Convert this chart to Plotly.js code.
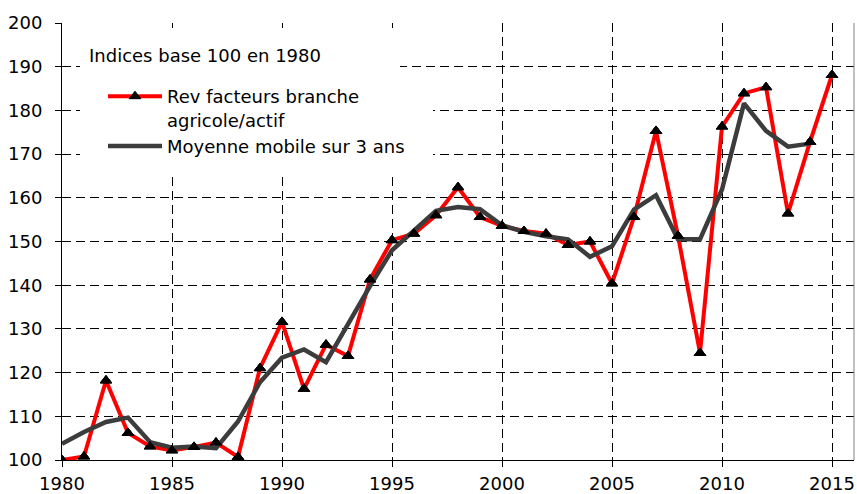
<!DOCTYPE html>
<html>
<head>
<meta charset="utf-8">
<script src="https://cdn.plot.ly/plotly-3.0.1.min.js"></script>
<style>
  html, body { margin: 0; padding: 0; background: #ffffff; }
  #chart { width: 857px; height: 494px; }
</style>
</head>
<body>
<div id="chart"></div>
<script>
// Years (x axis)
const years = [1980, 1981, 1982, 1983, 1984, 1985, 1986, 1987, 1988, 1989,
               1990, 1991, 1992, 1993, 1994, 1995, 1996, 1997, 1998, 1999,
               2000, 2001, 2002, 2003, 2004, 2005, 2006, 2007, 2008, 2009,
               2010, 2011, 2012, 2013, 2014, 2015];

// Revenu des facteurs de la branche agricole par actif (indice 100 en 1980)
const revFacteurs = [100.0, 100.8, 118.2, 106.2, 103.1, 102.2, 103.0, 104.0, 100.7, 121.0,
                     131.6, 116.3, 126.4, 123.8, 141.3, 150.3, 151.8, 156.0, 162.4, 155.6,
                     153.6, 152.4, 151.8, 149.2, 150.0, 140.4, 155.6, 175.3, 151.3, 124.5,
                     176.3, 183.9, 185.3, 156.4, 172.8, 188.1];

// Moyenne mobile sur 3 ans (1980-2014)
const moyenneYears = years.slice(0, 35);
const moyenneMobile = [103.7, 106.4, 108.7, 109.7, 104.1, 102.8, 103.1, 102.7, 108.8, 117.8,
                       123.4, 125.3, 122.4, 131.2, 139.8, 148.0, 152.6, 157.0, 157.9, 157.4,
                       153.7, 152.2, 151.2, 150.5, 146.5, 148.9, 157.3, 160.6, 150.5, 150.5,
                       161.9, 181.6, 175.3, 171.7, 172.4];

const xTicks = [1980, 1985, 1990, 1995, 2000, 2005, 2010, 2015];
const yTicks = [100, 110, 120, 130, 140, 150, 160, 170, 180, 190, 200];

const labelRev = 'Rev facteurs branche<br>agricole/actif';
const labelMoy = 'Moyenne mobile sur 3 ans';
const noteText = 'Indices base 100 en 1980';

const FONT = 'DejaVu Sans, Liberation Sans, Arial, sans-serif';

const markerStyle = { symbol: 'triangle-up', size: 10, color: '#000000', line: { color: '#000000', width: 1 } };

const traces = [
  {
    x: years, y: revFacteurs, name: labelRev, type: 'scatter', mode: 'lines+markers',
    line: { color: '#ff0000', width: 4 },
    marker: markerStyle,
    hoverinfo: 'x+y'
  },
  {
    x: moyenneYears, y: moyenneMobile, name: labelMoy, type: 'scatter', mode: 'lines',
    line: { color: '#3c3c3c', width: 4.5 },
    hoverinfo: 'x+y'
  },
  {
    x: years, y: revFacteurs, name: labelRev, type: 'scatter', mode: 'markers', showlegend: false,
    marker: markerStyle,
    hoverinfo: 'skip'
  }
];

const W = 857, H = 494;
const M = { l: 62, r: 3, t: 23, b: 34 };
const pw = W - M.l - M.r, ph = H - M.t - M.b;
const px = v => (v - M.l) / pw;
const py = v => 1 - (v - M.t) / ph;

const layout = {
  width: W, height: H,
  margin: M,
  paper_bgcolor: '#ffffff',
  plot_bgcolor: '#ffffff',
  font: { family: FONT, size: 18, color: '#000000' },
  showlegend: true,
  legend: {
    x: px(103), y: py(78), xanchor: 'left', yanchor: 'top',
    bgcolor: 'rgba(0,0,0,0)', borderwidth: 0,
    font: { family: FONT, size: 18, color: '#000000' },
    valign: 'top', itemwidth: 54, tracegroupgap: 0
  },
  xaxis: {
    range: [1980, 2016], tickvals: xTicks, ticktext: xTicks.map(String),
    showgrid: true, gridcolor: '#000000', gridwidth: 1, griddash: '9px,5px',
    showline: true, linecolor: '#000000', linewidth: 1,
    ticks: 'outside', ticklen: 6, tickcolor: '#000000', tickwidth: 1,
    ticklabelstandoff: 1,
    zeroline: false, fixedrange: true,
    tickfont: { family: FONT, size: 18, color: '#000000' }
  },
  yaxis: {
    range: [100, 200], tickvals: yTicks, ticktext: yTicks.map(String),
    showgrid: true, gridcolor: '#000000', gridwidth: 1, griddash: '9px,5px',
    showline: true, linecolor: '#000000', linewidth: 1,
    ticks: 'outside', ticklen: 6, tickcolor: '#000000', tickwidth: 1,
    ticklabelstandoff: 9,
    zeroline: false, fixedrange: true,
    tickfont: { family: FONT, size: 18, color: '#000000' }
  },
  shapes: [
    { type: 'rect', xref: 'paper', yref: 'paper', layer: 'above',
      x0: px(80), x1: px(400), y0: py(75), y1: py(28),
      fillcolor: '#ffffff', line: { width: 0 } },
    { type: 'rect', xref: 'paper', yref: 'paper', layer: 'above',
      x0: px(80), x1: px(433), y0: py(176), y1: py(75),
      fillcolor: '#ffffff', line: { width: 0 } },
    { type: 'line', xref: 'paper', yref: 'paper', layer: 'above',
      x0: 1, x1: 1, y0: 0, y1: 1, line: { color: '#808080', width: 1 } }
  ],
  annotations: [
    { text: noteText, xref: 'paper', yref: 'paper', x: px(87), y: py(56),
      xanchor: 'left', yanchor: 'middle', showarrow: false,
      font: { family: FONT, size: 18, color: '#000000' } }
  ]
};

Plotly.newPlot('chart', traces, layout, { displayModeBar: false, staticPlot: true });
</script>
</body>
</html>
